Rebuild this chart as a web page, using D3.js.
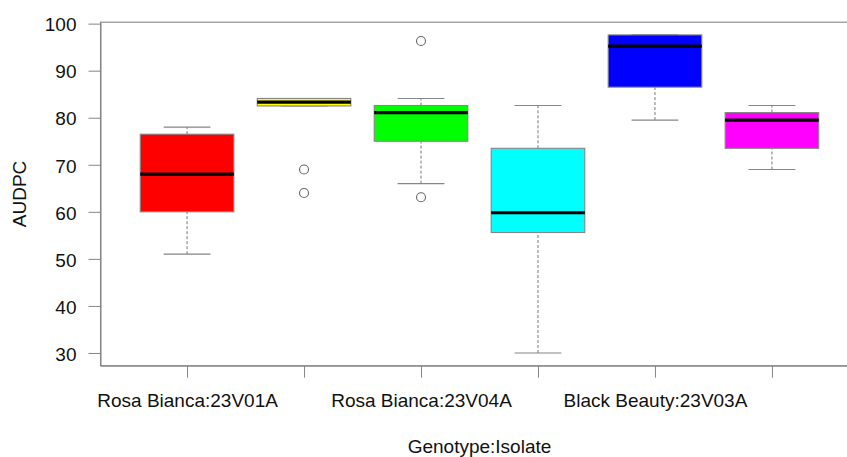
<!DOCTYPE html>
<html>
<head>
<meta charset="utf-8">
<script src="https://cdn.jsdelivr.net/npm/d3@7"></script>
<style>
  html, body { margin: 0; padding: 0; background: #fff; }
  svg { display: block; font-family: "Liberation Sans", Arial, sans-serif; }
</style>
</head>
<body>
<svg id="chart" width="847" height="457"></svg>
<script>
// Tick labels under each box (every other label is left blank, as R drops overlapping ones)
const groupLabels = ["Rosa Bianca:23V01A", "", "Rosa Bianca:23V04A", "", "Black Beauty:23V03A", ""];
const boxFills = ["#FF0000", "#FFFF00", "#00FF00", "#00FFFF", "#0000FF", "#FF00FF"];

// Five-number summaries of AUDPC per Genotype:Isolate group
const lowerWhisker  = [51.0, 82.5, 66.0, 30.0, 79.5, 69.0];
const lowerQuartile = [60.0, 82.5, 75.0, 55.6, 86.5, 73.5];
const medians       = [68.0, 83.3, 81.1, 59.8, 95.2, 79.5];
const upperQuartile = [76.5, 84.1, 82.6, 73.5, 97.6, 81.1];
const upperWhisker  = [78.0, 84.1, 84.1, 82.6, 97.6, 82.6];
const outliers      = [[], [69.0, 64.0], [96.3, 63.1], [], [], []];

const yTicks = [30, 40, 50, 60, 70, 80, 90, 100];

const svg = d3.select("#chart");
const lineGrey = "#868686";
const textCol = "#111";
const fontSize = "19px";

// Plot region; the x range runs past the right edge of the page
const plot = { left: 100.5, right: 858.5, top: 22.2, bottom: 365.7 };
const n = groupLabels.length;

// Like R: pad the axis ranges by 4%
const allVals = lowerWhisker.concat(upperWhisker, outliers.flat());
const [vmin, vmax] = d3.extent(allVals);
const pad = (vmax - vmin) * 0.04;
const y = d3.scaleLinear().domain([vmin - pad, vmax + pad]).range([plot.bottom, plot.top]);
const xPad = n * 0.04;
const x = d3.scaleLinear().domain([0.5 - xPad, n + 0.5 + xPad]).range([plot.left, plot.right]);
const step = x(2) - x(1);
const boxHalf = step * 0.4;
const stapleHalf = step * 0.2;

const groups = groupLabels.map((label, i) => ({
  pos: i + 1, label, fill: boxFills[i],
  lo: lowerWhisker[i], q1: lowerQuartile[i], med: medians[i],
  q3: upperQuartile[i], hi: upperWhisker[i], out: outliers[i]
}));

const g = svg.append("g");

// Whiskers (dashed) and staples
const box = g.selectAll("g.box").data(groups).join("g").attr("class", "box");
box.append("line")
  .attr("x1", d => x(d.pos)).attr("x2", d => x(d.pos))
  .attr("y1", d => y(d.lo)).attr("y2", d => y(d.q1))
  .attr("stroke", "#777").attr("stroke-width", 1).attr("stroke-dasharray", "3,2");
box.append("line")
  .attr("x1", d => x(d.pos)).attr("x2", d => x(d.pos))
  .attr("y1", d => y(d.q3)).attr("y2", d => y(d.hi))
  .attr("stroke", "#777").attr("stroke-width", 1).attr("stroke-dasharray", "3,2");
box.append("line")
  .attr("x1", d => x(d.pos) - stapleHalf).attr("x2", d => x(d.pos) + stapleHalf)
  .attr("y1", d => y(d.lo)).attr("y2", d => y(d.lo))
  .attr("stroke", lineGrey).attr("stroke-width", 1.1);
box.append("line")
  .attr("x1", d => x(d.pos) - stapleHalf).attr("x2", d => x(d.pos) + stapleHalf)
  .attr("y1", d => y(d.hi)).attr("y2", d => y(d.hi))
  .attr("stroke", lineGrey).attr("stroke-width", 1.1);

// Interquartile boxes
box.append("rect")
  .attr("x", d => x(d.pos) - boxHalf).attr("width", boxHalf * 2)
  .attr("y", d => y(d.q3)).attr("height", d => y(d.q1) - y(d.q3))
  .attr("fill", d => d.fill).attr("stroke", lineGrey).attr("stroke-width", 1.1);

// Medians
box.append("line")
  .attr("x1", d => x(d.pos) - boxHalf).attr("x2", d => x(d.pos) + boxHalf)
  .attr("y1", d => y(d.med)).attr("y2", d => y(d.med))
  .attr("stroke", "#000").attr("stroke-width", 3.2);

// Outliers
box.selectAll("circle").data(d => d.out.map(v => ({ pos: d.pos, v }))).join("circle")
  .attr("cx", d => x(d.pos)).attr("cy", d => y(d.v)).attr("r", 4.5)
  .attr("fill", "none").attr("stroke", "#666").attr("stroke-width", 1.1);

// Frame around the plot region
svg.append("rect")
  .attr("x", plot.left).attr("y", plot.top)
  .attr("width", plot.right - plot.left).attr("height", plot.bottom - plot.top)
  .attr("fill", "none").attr("stroke", lineGrey).attr("stroke-width", 1.1);

// Y axis
const yAxis = svg.append("g")
  .attr("transform", `translate(${plot.left},0)`)
  .call(d3.axisLeft(y).tickValues(yTicks).tickSize(12).tickPadding(12).tickSizeOuter(0));
yAxis.select(".domain").attr("stroke", lineGrey);
yAxis.selectAll(".tick line").attr("stroke", lineGrey);
yAxis.selectAll(".tick text")
  .attr("fill", textCol).style("font-size", fontSize).style("font-family", "Liberation Sans, Arial, sans-serif")
  .attr("dy", "0.38em");

// X axis
const xAxis = svg.append("g")
  .attr("transform", `translate(0,${plot.bottom})`)
  .call(d3.axisBottom(x).tickValues(groups.map(d => d.pos)).tickSize(12)
    .tickFormat((d, i) => groupLabels[i]).tickSizeOuter(0).tickPadding(16));
xAxis.select(".domain").attr("stroke", lineGrey);
xAxis.selectAll(".tick line").attr("stroke", lineGrey);
xAxis.selectAll(".tick text")
  .attr("fill", textCol).style("font-size", fontSize).style("font-family", "Liberation Sans, Arial, sans-serif");

// Axis titles
svg.append("text")
  .attr("transform", `translate(25.5,${(plot.top + plot.bottom) / 2}) rotate(-90)`)
  .attr("text-anchor", "middle").attr("fill", textCol).style("font-size", fontSize)
  .text("AUDPC");
svg.append("text")
  .attr("x", (plot.left + plot.right) / 2).attr("y", 453)
  .attr("text-anchor", "middle").attr("fill", textCol).style("font-size", fontSize)
  .text("Genotype:Isolate");
</script>
</body>
</html>
